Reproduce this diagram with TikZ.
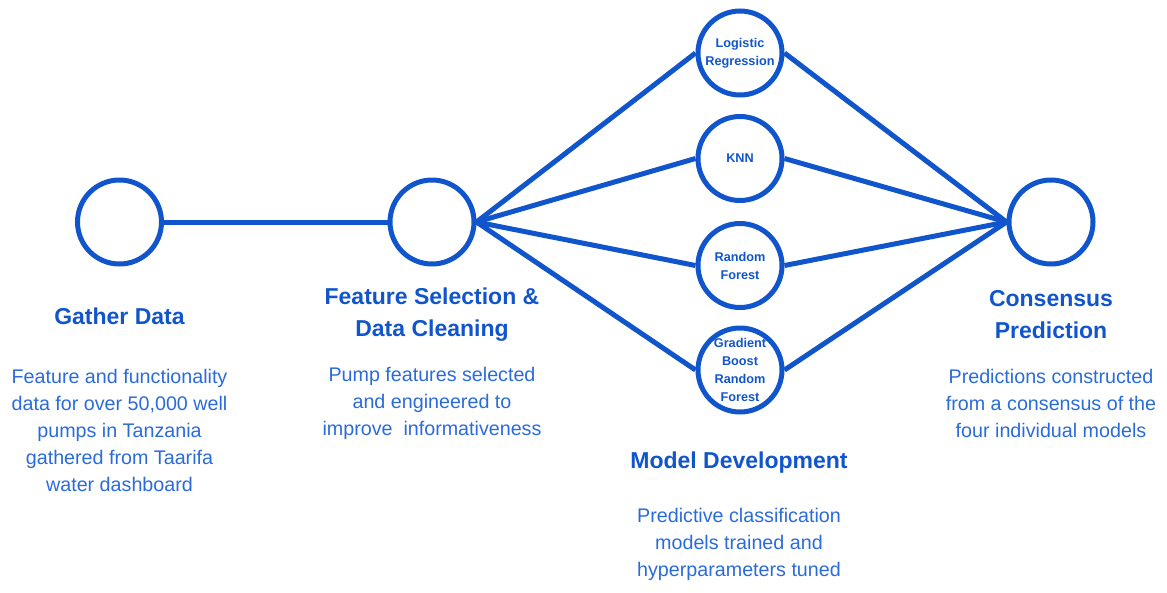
\documentclass[tikz,border=0pt]{standalone}
\usepackage{fontspec}
\setmainfont{Liberation Sans}
\definecolor{lineblue}{HTML}{1155CC}
\definecolor{headblue}{HTML}{1155CC}
\definecolor{bodyblue}{HTML}{2A6BDB}
\begin{document}
\begin{tikzpicture}[x=1pt,y=-1pt,
  stage/.style={circle,draw=lineblue,line width=5pt,minimum size=84pt,inner sep=0pt,fill=white},
  model/.style={stage,font=\fontsize{12.7}{18}\selectfont\bfseries,text=headblue,align=center},
  link/.style={draw=lineblue,line width=5pt},
  heading/.style={font=\fontsize{23}{32}\selectfont\bfseries,text=headblue,align=center,inner sep=0pt},
  body/.style={font=\fontsize{19.7}{27}\selectfont,text=bodyblue,align=center,inner sep=0pt}]
\useasboundingbox (0,0) rectangle (1167,592);

% stage circles
\node[stage] (gather) at (119.5,222) {};
\node[stage] (feature) at (432,222) {};
\node[stage] (consensus) at (1051,222) {};

% model circles
\node[model] (lr) at (740,53) {Logistic\\Regression};
\node[model] (knn) at (740,158.5) {KNN};
\node[model] (rf) at (740,265.5) {Random\\Forest};
\node[model] (gb) at (740,370) {Gradient\\Boost\\Random\\Forest};

% connectors
\draw[link] (gather) -- (feature);
\foreach \m in {lr,knn,rf,gb}{
  \draw[link] (feature.east) -- (\m.west);
  \draw[link] (\m.east) -- (consensus.west);
}

% labels
\node[heading] (h1) at (119.5,316) {Gather Data};
\node[body] (b1) at (119.5,430) {Feature and functionality\\data for over 50,000 well\\pumps in Tanzania\\gathered from Taarifa\\water dashboard};

\node[heading] (h2) at (432,315) {Feature Selection \&\\Data Cleaning};
\node[body] (b2) at (432,403) {Pump features selected\\and engineered to\\improve\ \ informativeness};

\node[heading] (h3) at (739,463) {Model Development};
\node[body] (b3) at (739,544) {Predictive classification\\models trained and\\hyperparameters tuned};

\node[heading] (h4) at (1051,315) {Consensus\\Prediction};
\node[body] (b4) at (1051,403) {Predictions constructed\\from a consensus of the\\four individual models};
\end{tikzpicture}
\end{document}
